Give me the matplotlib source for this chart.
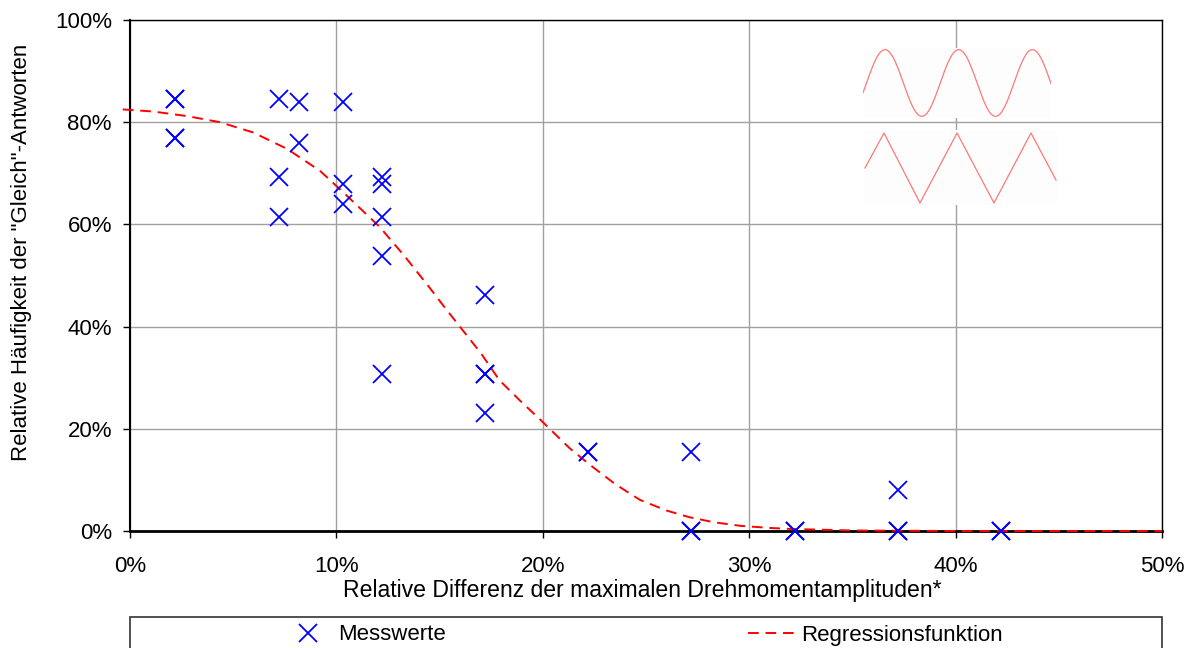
import numpy as np
import matplotlib
matplotlib.use("Agg")
import matplotlib.pyplot as plt
from matplotlib.patches import Rectangle
from matplotlib.ticker import FuncFormatter

plt.rcParams['font.family'] = ['Liberation Sans', 'DejaVu Sans']

# Messwerte (in %)
mess_x = [2.2, 2.2, 2.2, 2.2,
          7.2, 7.2, 7.2,
          8.2, 8.2,
          10.3, 10.3, 10.3,
          12.2, 12.2, 12.2, 12.2, 12.2,
          17.2, 17.2, 17.2, 17.2,
          22.2, 22.2,
          27.2, 27.2, 27.2,
          32.2, 32.2,
          37.2, 37.2, 37.2,
          42.2, 42.2]
mess_y = [84.6, 84.6, 76.9, 76.9,
          84.6, 69.2, 61.5,
          84.0, 76.0,
          84.0, 68.0, 64.0,
          69.2, 68.0, 61.5, 53.8, 30.8,
          46.2, 30.8, 30.8, 23.1,
          15.4, 15.4,
          15.4, 0.0, 0.0,
          0.0, 0.0,
          8.0, 0.0, 0.0,
          0.0, 0.0]

# Regressionsfunktion (in %)
reg_x = [-0.35, 0, 1.1, 2.76, 4.36, 5.96, 7.6, 9.2, 10.3, 12.1, 13.3, 14.5, 15.2,
         16, 17, 17.9, 18.9, 19.9, 21.3, 22.3, 23.5, 24.7, 26, 27.1, 28.3, 29.6,
         31, 32, 35, 40, 45, 50]
reg_y = [82.5, 82.4, 82.1, 81.2, 80.0, 78.0, 74.8, 70.5, 66.4, 59.5, 53.8, 47.7,
         44.0, 39.9, 34.8, 29.5, 25.5, 21.7, 16.2, 12.9, 9.2, 6.1, 4.0, 2.7, 1.7,
         1.0, 0.6, 0.4, 0.1, 0.0, 0.0, 0.0]

x_ticks = [0, 10, 20, 30, 40, 50]
y_ticks = [0, 20, 40, 60, 80, 100]

FS = 16

fig = plt.figure(figsize=(11.93, 6.48), dpi=100)
ax = fig.add_axes([130 / 1193, 1 - 531 / 648, 1032 / 1193, 511 / 648])

ax.plot(reg_x, reg_y, color='#ff0000', lw=1.4, ls=(0, (5.5, 3.5)), zorder=3,
        label='Regressionsfunktion', clip_on=False)
ax.plot(mess_x, mess_y, ls='none', marker='x', ms=13, mew=1.3, color='#0000ff',
        zorder=4, label='Messwerte', clip_on=False)

ax.set_xlim(0, 50)
ax.set_ylim(0, 100)
ax.set_xticks(x_ticks)
ax.set_yticks(y_ticks)
pct = FuncFormatter(lambda v, p: '%d%%' % v)
ax.xaxis.set_major_formatter(pct)
ax.yaxis.set_major_formatter(pct)
ax.grid(True, color='#a0a0a0', lw=1.0)
ax.set_axisbelow(True)
for s in ax.spines.values():
    s.set_color('black')
    s.set_linewidth(1.0)
ax.spines['bottom'].set_linewidth(2.0)
ax.spines['left'].set_linewidth(1.5)
ax.tick_params(axis='both', direction='out', length=5, width=1, labelsize=FS,
               color='black')
ax.tick_params(axis='y', pad=8)
ax.tick_params(axis='x', pad=13)
ax.set_xlabel('Relative Differenz der maximalen Drehmomentamplituden*', fontsize=16.6)
ax.set_ylabel('Relative Häufigkeit der "Gleich"-Antworten', fontsize=FS)
ax.xaxis.set_label_coords(0.496, -0.093)
ax.yaxis.set_label_coords(-0.095, 0.546)

# Piktogramme: Sinus und Dreieck
ins1 = fig.add_axes([863 / 1193, 1 - 118 / 648, 188 / 1193, 70 / 648])
ph = np.linspace(-0.3, 2 * np.pi * 2.55 - 0.3, 300)
ins1.plot(ph, np.sin(ph), color='#ff7878', lw=0.9)
ins1.set_ylim(-1.05, 1.05)
ins1.set_xlim(ph[0], ph[-1])
ins1.set_facecolor('#fdfdfd')
ins1.set_xticks([]); ins1.set_yticks([])
for s in ins1.spines.values():
    s.set_visible(False)

tri_x = [865, 884, 920, 957, 994, 1031, 1056]
tri_y = [168, 133, 203, 133, 203, 133, 180]
ins2 = fig.add_axes([863 / 1193, 1 - 205 / 648, 195 / 1193, 75 / 648])
ins2.plot(tri_x, tri_y, color='#ff7878', lw=0.9)
ins2.set_xlim(863, 1058)
ins2.set_ylim(205, 130)
ins2.set_facecolor('#fdfdfd')
ins2.set_xticks([]); ins2.set_yticks([])
for s in ins2.spines.values():
    s.set_visible(False)

# Legende
fig.patches.append(Rectangle((130 / 1193, -0.02), 1032 / 1193, (648 - 617) / 648 + 0.02,
                             transform=fig.transFigure, fill=False,
                             edgecolor='#333333', lw=1.2))
h, l = ax.get_legend_handles_labels()
fig.legend([h[1], h[0]], [l[1], l[0]], loc='center',
           bbox_to_anchor=(644 / 1193, 1 - 635 / 648), ncol=2, frameon=False,
           fontsize=FS, columnspacing=13.6, handlelength=2.1, handletextpad=0.3,
           borderpad=0, borderaxespad=0)

fig.savefig('out.png', dpi=100)
